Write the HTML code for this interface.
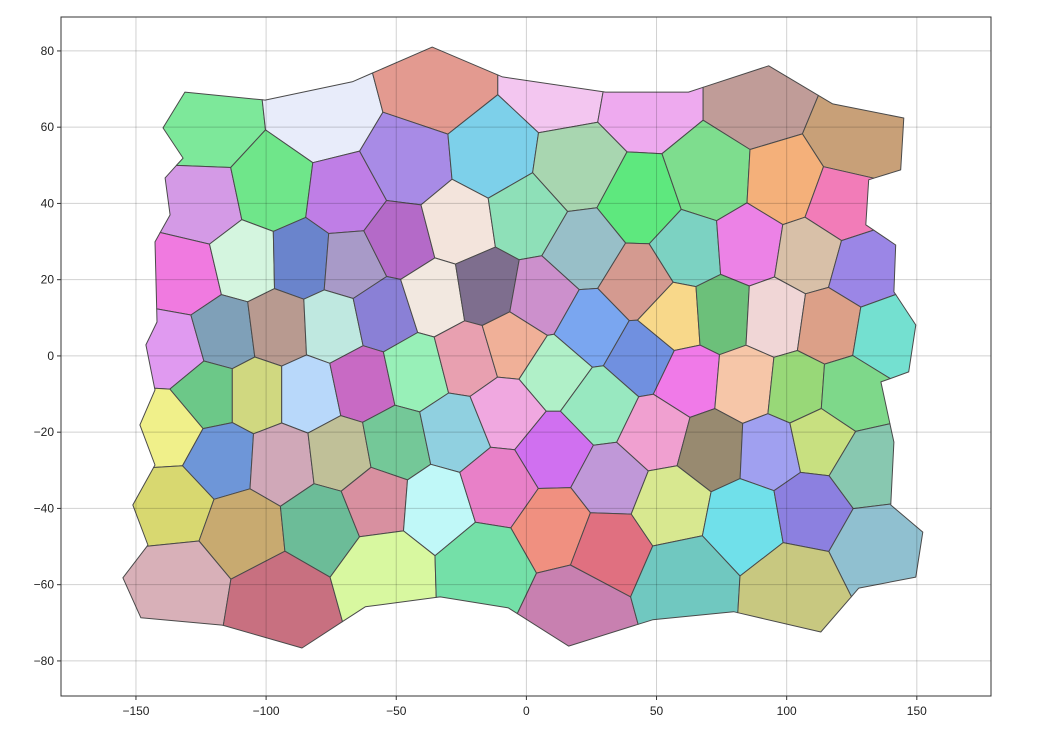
<!DOCTYPE html>
<html><head><meta charset="utf-8"><style>
body{margin:0;background:#fff;}
svg{display:block;font-family:"Liberation Sans",sans-serif;}
</style></head><body>
<svg id="chart" width="1040" height="736"></svg>
<script>
const siteX=[-123.5,-77.7,-35,13,45.8,90,126.5,-124.6,-97.7,-69.6,-45.4,-13,18.8,43.8,70.8,99.6,120.8,-131,-108,-86,-67.7,-49,-26.5,-0.4,22.7,42.7,62.3,85.4,108.5,129,-136,-115.8,-95.4,-74.6,-55,-35,-15.8,5.4,24.6,44.6,57.3,74.6,95.4,116,138,-122,-104,-84,-63,-42.7,-22.7,-5.4,10.4,28.5,62.3,84.2,103.5,124,-137.7,-117,-94,-71.5,-50.4,-27.3,-8,10.4,32.3,49.6,71.5,93.8,112.3,130.4,-136,-109,-78.5,-57.7,-35,-10.8,11.2,54.6,84.2,109.2,134,-133,-95.4,-54.2,-15.8,18.8,31.5,60.4,103.5];
const siteY=[59.8,63.2,71,71,67,67,56.7,39.6,43.5,41,50,52,48.8,39.6,46,44.9,39.6,21,24.7,25,24,30.4,34.4,37,27.8,19.4,27.8,29,26.5,22.6,1.6,5.5,7.3,8,10.8,15.2,17.3,14.7,7.3,-0.5,10,10.8,10,8,5.5,-10,-10,-10,-7,-4,-0.5,3,-4,-13,-6.3,-7.6,-9,-10,-19,-26.8,-27.8,-26,-23.3,-20,-14.7,-25,-33,-20,-24,-24.7,-22,-29.4,-39,-45.6,-43.5,-37.8,-39,-33.8,-44.3,-39,-43,-40,-49.6,-59.3,-63.5,-55.6,-54.8,-66,-49.6,-58.2,-60];
const siteColor=["#7de89a","#e8ecfa","#e39a90","#f3c6f0","#eeaaef","#c09c98","#c8a078","#d49ae6","#6fe68a","#bf7ee6","#a88be6","#7dd0ea","#a8d6b0","#5ee87e","#7edd8e","#f4b07a","#f27cb8","#f07ae0","#d4f5df","#6a84cc","#a89ac8","#b46ac8","#f3e4dc","#8ee0b8","#98bfc8","#d49a90","#7cd2c2","#ec82e6","#d8c0a8","#9b86e6","#e09af0","#7fa0b8","#b89a90","#bfe8e0","#8a80d6","#f2e8e0","#7e6e8e","#cc90cc","#7aa6f0","#7090e0","#f8d88a","#6cc07a","#f0d6d6","#dca088","#74e0d0","#6cc888","#d0d880","#b8d8fa","#c86ac4","#98f0b8","#e8a0b0","#f0b098","#b0f0c8","#98e8c0","#f07ae8","#f6c6a8","#98d878","#7ed88a","#f0f08a","#6e96d8","#d0a8b8","#c0c098","#74c898","#90d0e0","#f0a8e0","#d070f0","#c098d8","#f0a0d0","#988a70","#a0a0f0","#c8e080","#88c8b0","#d8d870","#c8aa70","#6cbc98","#d890a0","#c0f8f8","#e880c8","#f09080","#d8e890","#70e0ea","#8c80e0","#90c0d0","#d8b0b8","#c87080","#d8f8a0","#74e0a8","#c880b0","#e07080","#70c8c0","#c8c880"];
const boundX=[-131.2,-100.4,-66.9,-36.2,-9.2,30.4,62.3,93.1,117.7,145,143.8,131.5,130.4,141.9,141.2,149.6,146.9,136.2,141.2,140,152.3,149.6,127.7,113.1,79.6,48.5,16.2,-6.9,-33.1,-61.9,-86.2,-116.9,-148.1,-155,-145.4,-151.2,-142.7,-148.5,-142.7,-146.2,-141.9,-142.7,-136.9,-138.8,-131.9,-139.6];
const boundY=[69.2,67.1,71.9,81,73.2,69.2,69.2,76.1,66.1,62.4,48.8,46.2,34.4,29.1,16.8,8.1,-4.2,-6.8,-22.6,-39.1,-46.2,-58,-60.9,-72.4,-67.1,-69.2,-76.1,-66.1,-63.2,-65.8,-76.6,-70.6,-68.7,-58.2,-49.6,-39.1,-28.6,-18.1,-8.9,2.9,8.9,29.9,37,46.7,51.9,59.8];
const xTicks=[-150,-100,-50,0,50,100,150];
const yTicks=[-80,-60,-40,-20,0,20,40,60,80];
const xMin=-178.8,xMax=178.5,yMin=-89.2,yMax=88.9;
const L=61,R=991,T=17,B=696;
const sx=v=>L+(v-xMin)/(xMax-xMin)*(R-L);
const sy=v=>B-(v-yMin)/(yMax-yMin)*(B-T);
const NS="http://www.w3.org/2000/svg";
const svg=document.getElementById('chart');
function mk(tag,attrs,parent){const e=document.createElementNS(NS,tag);for(const k in attrs)e.setAttribute(k,attrs[k]);(parent||svg).appendChild(e);return e;}
function clip(poly,ax,ay,bx,by){
  const mx=(ax+bx)/2,my=(ay+by)/2,nx=bx-ax,ny=by-ay;
  const f=p=>(p[0]-mx)*nx+(p[1]-my)*ny;
  const out=[];
  for(let k=0;k<poly.length;k++){
    const p=poly[k],q=poly[(k+1)%poly.length];const fp=f(p),fq=f(q);
    if(fp<=0)out.push(p);
    if((fp<0&&fq>0)||(fp>0&&fq<0)){const t=fp/(fp-fq);out.push([p[0]+t*(q[0]-p[0]),p[1]+t*(q[1]-p[1])]);}
  }
  return out;
}
// work in screen space
const boundary=boundX.map((x,i)=>[sx(x),sy(boundY[i])]);
const px=siteX.map(sx), py=siteY.map(sy);
const cellsG=mk('g',{});


for(let i=0;i<siteX.length;i++){
  let poly=boundary.slice();
  for(let j=0;j<siteX.length;j++){if(j===i)continue;poly=clip(poly,px[i],py[i],px[j],py[j]);if(!poly.length)break;}
  if(poly.length<3)continue;
  const pts=poly.map(p=>p[0].toFixed(1)+','+p[1].toFixed(1)).join(' ');
  const el=mk('polygon',{points:pts,fill:siteColor[i],stroke:'#4a4a4a','stroke-width':'1','stroke-linejoin':'round'},cellsG);
  
  
}
const grid=mk('g',{stroke:'rgba(0,0,0,0.18)','stroke-width':'1'});


xTicks.forEach(v=>{const l=mk('line',{x1:sx(v),x2:sx(v),y1:T,y2:B},grid);});
yTicks.forEach(v=>{const l=mk('line',{x1:L,x2:R,y1:sy(v),y2:sy(v)},grid);});
const frame=mk('rect',{x:L,y:T,width:R-L,height:B-T,fill:'none',stroke:'#333','stroke-width':'1'});


xTicks.forEach(v=>{
  mk('line',{x1:sx(v),x2:sx(v),y1:B,y2:B+4,stroke:'#333'});
  const t=mk('text',{x:sx(v),y:B+19,'text-anchor':'middle','font-size':'12',fill:'#222'});
  t.textContent=(v<0?'\u2212'+(-v):v);
  
  
});
yTicks.forEach(v=>{
  mk('line',{x1:L-4,x2:L,y1:sy(v),y2:sy(v),stroke:'#333'});
  const t=mk('text',{x:L-7,y:sy(v)+4,'text-anchor':'end','font-size':'12',fill:'#222'});
  t.textContent=(v<0?'\u2212'+(-v):v);
  
  
});
</script>
</body></html>
